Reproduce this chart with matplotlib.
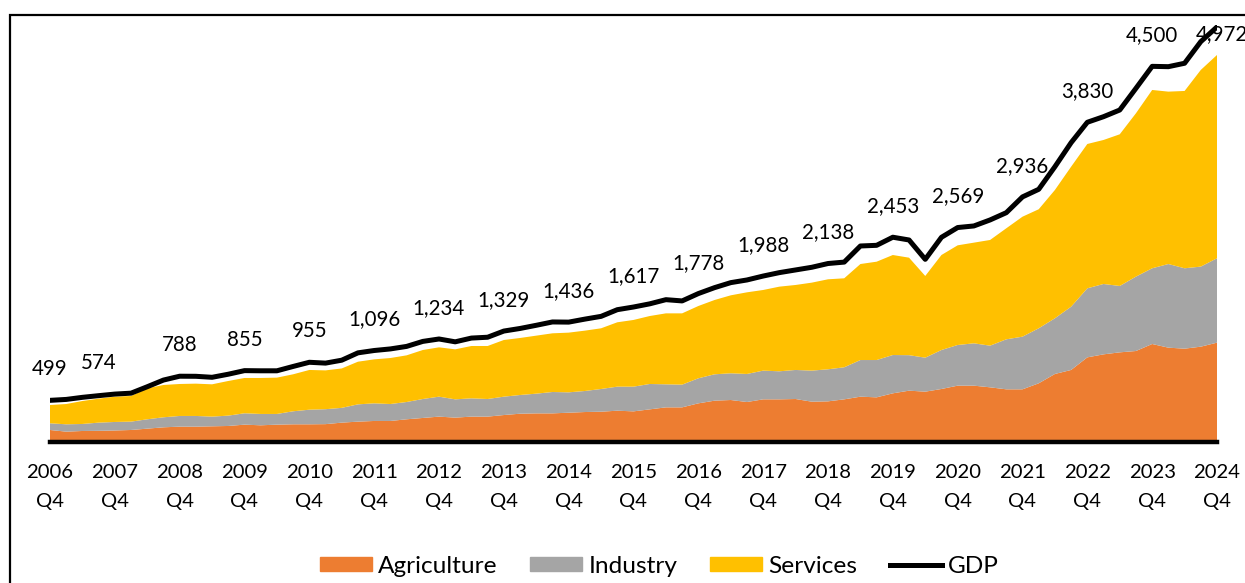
import matplotlib
matplotlib.use('Agg')
import matplotlib.pyplot as plt
from matplotlib.patches import Patch, Rectangle
from matplotlib.lines import Line2D

plt.rcParams['font.family'] = ['Lato', 'DejaVu Sans']

# quarterly values, 2006 Q4 .. 2024 Q4
years = list(range(2006, 2025))

agriculture = [144, 124, 132, 134, 138, 144, 160, 176, 184, 184, 188, 192, 208, 200, 208, 212,
               212, 214, 232, 244, 252, 252, 272, 288, 304, 292, 304, 304, 323, 339, 343, 343,
               351, 359, 363, 375, 367, 391, 415, 415, 463, 495, 503, 479, 511, 511, 515, 483,
               487, 511, 543, 535, 583, 615, 603, 635, 675, 675, 655, 631, 631, 703, 815, 863,
               1014, 1050, 1074, 1090, 1174, 1130, 1118, 1142, 1190]
industry = [80, 88, 84, 98, 102, 100, 112, 120, 128, 128, 116, 124, 136, 136, 128, 156,
            175, 179, 177, 207, 211, 203, 207, 227, 239, 219, 219, 211, 220, 224, 236, 256,
            244, 252, 272, 288, 296, 304, 276, 272, 300, 316, 320, 336, 344, 336, 348, 372,
            384, 384, 439, 447, 459, 425, 407, 467, 487, 507, 499, 599, 631, 659, 667, 758,
            827, 843, 795, 891, 907, 1002, 963, 959, 1011]
services = [219, 243, 275, 287, 303, 307, 371, 387, 383, 387, 387, 415, 423, 431, 435, 443,
            476, 465, 472, 511, 527, 551, 559, 587, 591, 599, 627, 635, 679, 683, 695, 703,
            715, 723, 727, 771, 799, 814, 850, 854, 866, 890, 934, 978, 966, 1014, 1018, 1054,
            1078, 1066, 1150, 1178, 1198, 1168, 979, 1138, 1194, 1206, 1266, 1330, 1437, 1426, 1537, 1677,
            1729, 1725, 1817, 1957, 2136, 2065, 2124, 2356, 2435]
gdp = [499, 510, 535, 555, 574, 585, 662, 742, 788, 787, 775, 812, 855, 853, 853, 905,
       955, 945, 980, 1068, 1096, 1115, 1145, 1205, 1234, 1200, 1245, 1255, 1329, 1360, 1398, 1438,
       1436, 1472, 1505, 1585, 1617, 1655, 1705, 1690, 1778, 1849, 1909, 1941, 1988, 2029, 2061, 2093,
       2138, 2155, 2348, 2356, 2453, 2420, 2188, 2452, 2569, 2588, 2660, 2747, 2936, 3027, 3298, 3586,
       3830, 3897, 3977, 4237, 4500, 4496, 4537, 4796, 4972]

x = list(range(len(gdp)))

c_agri = '#ED7D31'
c_ind = '#A5A5A5'
c_serv = '#FFC000'

fig = plt.figure(figsize=(12.45, 5.83), dpi=100)
ax = fig.add_axes([50 / 1245, 1 - 442 / 583, 1167 / 1245, (442 - 24.6) / 583])

ax.stackplot(x, agriculture, industry, services, colors=[c_agri, c_ind, c_serv], linewidth=0)
ax.plot(x, gdp, color='black', lw=3.6)
ax.axhline(0, color='black', lw=3.2, clip_on=False)

ax.set_xlim(0, 72)
ax.set_ylim(0, 5000)
for s in ax.spines.values():
    s.set_visible(False)
ax.set_yticks([])
ax.set_xticks(range(0, 73, 4))
ax.set_xticklabels([f'{y}\nQ4' for y in years], fontsize=14.6)
for t in ax.get_xticklabels():
    t.set_linespacing(1.9)
ax.tick_params(axis='x', length=0, pad=15.5)

# labels at each Q4
for i in range(0, 73, 4):
    dx, dy = 0, 22.3
    if i == 4:
        dx = -11.5
    if i == 72:
        dx, dy = 3.5, -5.5
    ax.annotate(f'{gdp[i]:,}', (i, gdp[i]), xytext=(dx, dy), textcoords='offset points',
                ha='center', va='center', fontsize=14.8, annotation_clip=False)

handles = [Patch(color=c_agri), Patch(color=c_ind), Patch(color=c_serv),
           Line2D([], [], color='black', lw=3.6)]
fig.legend(handles, ['Agriculture', 'Industry', 'Services', 'GDP'], loc='center',
           bbox_to_anchor=(0.5297, 0.029), ncol=4, frameon=False, fontsize=17.6,
           handlelength=2.13, handleheight=0.53, handletextpad=0.25, columnspacing=1.33)

# chart border (partly off the canvas)
fig.patches.append(Rectangle((10 / 1245, -0.2), 1.2, 1.2 - 15 / 583, transform=fig.transFigure,
                             fill=False, edgecolor='black', lw=1.6, clip_on=False))

fig.savefig('out.png', dpi=100)
